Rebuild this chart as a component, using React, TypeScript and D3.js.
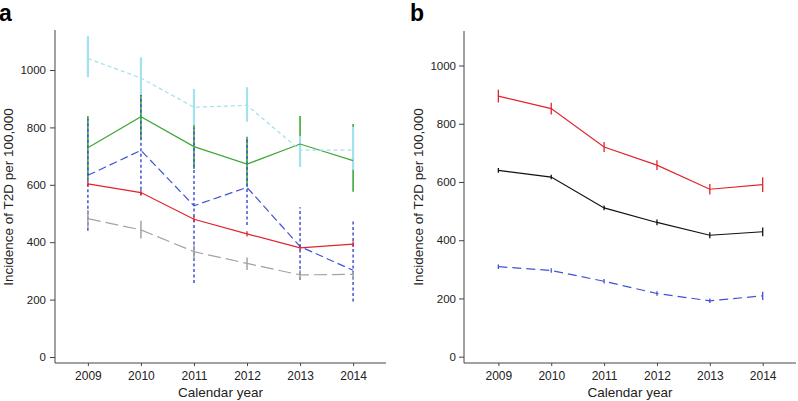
import React, { useEffect, useRef } from "react";
import * as d3 from "d3";

// calendar years and y ticks shared by both panels
const years = [2009, 2010, 2011, 2012, 2013, 2014];
const yTicks = [0, 200, 400, 600, 800, 1000];

// panel a series (value, lower CI, upper CI)
const cyanA = [1040, 972, 870, 877, 721, 721];
const cyanALo = [975, 913, 808, 820, 662, 652];
const cyanAHi = [1118, 1044, 934, 940, 770, 802];
const greenA = [729, 837, 733, 672, 742, 684];
const greenALo = [620, 757, 655, 593, 663, 576];
const greenAHi = [840, 917, 812, 767, 840, 812];
const blueA = [633, 720, 527, 591, 385, 302];
const blueALo = [440, 564, 258, 460, 268, 193];
const blueAHi = [830, 913, 800, 760, 522, 475];
const redA = [603, 573, 480, 429, 380, 393];
const redALo = [593, 563, 470, 420, 371, 383];
const redAHi = [613, 583, 490, 438, 389, 403];
const grayA = [482, 443, 367, 326, 286, 288];
const grayALo = [450, 413, 340, 303, 268, 270];
const grayAHi = [512, 475, 390, 347, 303, 297];

// panel b series
const redB = [895, 852, 720, 658, 575, 591];
const redBLo = [873, 832, 703, 641, 557, 566];
const redBHi = [917, 872, 737, 675, 593, 616];
const blackB = [640, 617, 511, 461, 417, 429];
const blackBLo = [632, 609, 503, 451, 407, 414];
const blackBHi = [648, 625, 519, 471, 427, 444];
const blueB = [309, 296, 259, 217, 192, 209];
const blueBLo = [301, 288, 251, 209, 184, 195];
const blueBHi = [317, 304, 267, 225, 200, 223];

const FONT = "'Liberation Sans', Arial, Helvetica, sans-serif";

function drawPanel(svg, opts) {
  const { left, right, top, bottom, y0, y1000, xDomain, letter, letterX, labelX, tickPad, series } = opts;

  const x = d3.scaleLinear().domain(xDomain).range([left, right]);
  const y = d3.scaleLinear().domain([0, 1000]).range([y0, y1000]);

  const g = svg.append("g");

  // y axis
  const yAxis = g.append("g")
    .attr("transform", `translate(${left},0)`)
    .call(d3.axisLeft(y).tickValues(yTicks).tickFormat(d3.format("d")).tickSize(5).tickPadding(tickPad));
  yAxis.select(".domain").remove();
  yAxis.selectAll(".tick text").attr("font-size", 11.5);

  // x axis
  const xAxis = g.append("g")
    .attr("transform", `translate(0,${bottom})`)
    .call(d3.axisBottom(x).tickValues(years).tickFormat(d3.format("d")).tickSize(3).tickPadding(5));
  xAxis.select(".domain").remove();
  xAxis.selectAll(".tick text").attr("font-size", 12);

  g.selectAll(".tick line").attr("stroke", "#444");
  g.selectAll(".tick text")
    .attr("font-family", FONT)
    .attr("fill", "#222");

  // L shaped frame
  g.append("path")
    .attr("d", `M${left},${top}V${bottom}H${right}`)
    .attr("fill", "none")
    .attr("stroke", "#444")
    .attr("stroke-width", 1);

  // series: error bars then lines
  series.forEach((s) => {
    g.append("g")
      .selectAll("line")
      .data(years)
      .join("line")
      .attr("x1", (d) => x(d))
      .attr("x2", (d) => x(d))
      .attr("y1", (d, i) => y(s.lo[i]))
      .attr("y2", (d, i) => y(s.hi[i]))
      .attr("stroke", s.barColor || s.color)
      .attr("stroke-width", s.barWidth || 1.3)
      .attr("stroke-dasharray", s.barDash || null);
  });
  series.forEach((s) => {
    const line = d3.line().x((d) => x(d)).y((d, i) => y(s.values[i]));
    g.append("path")
      .datum(years)
      .attr("d", line)
      .attr("fill", "none")
      .attr("stroke", s.color)
      .attr("stroke-width", 1.2)
      .attr("stroke-dasharray", s.dash || null);
  });

  // axis titles
  g.append("text")
    .attr("x", (left + right) / 2)
    .attr("y", 397)
    .attr("text-anchor", "middle")
    .attr("font-family", FONT)
    .attr("font-size", 13.5)
    .attr("fill", "#222")
    .text("Calendar year");

  g.append("text")
    .attr("transform", `translate(${labelX},197) rotate(-90)`)
    .attr("text-anchor", "middle")
    .attr("font-family", FONT)
    .attr("font-size", 13.5)
    .attr("fill", "#222")
    .text("Incidence of T2D per 100,000");

  // panel letter
  g.append("text")
    .attr("x", letterX)
    .attr("y", 21)
    .attr("font-family", FONT)
    .attr("font-size", 23)
    .attr("font-weight", "bold")
    .attr("fill", "#000")
    .text(letter);
}

export default function App() {
  const ref = useRef(null);

  useEffect(() => {
    const svg = d3.select(ref.current);
    svg.selectAll("*").remove();

    drawPanel(svg, {
      left: 55, right: 386, top: 30, bottom: 363,
      y0: 357, y1000: 70,
      xDomain: [2008.38, 2014.62],
      letter: "a", letterX: -1, labelX: 13, tickPad: 4,
      series: [
        { values: greenA, lo: greenALo, hi: greenAHi, color: "#3da836", barWidth: 1.6 },
        { values: cyanA, lo: cyanALo, hi: cyanAHi, color: "#a3e1ee", dash: "4,3", barWidth: 2.2 },
        { values: blueA, lo: blueALo, hi: blueAHi, color: "#4052d8", dash: "8,4", barDash: "3,2.5", barWidth: 1.5 },
        { values: grayA, lo: grayALo, hi: grayAHi, color: "#a3a3a3", dash: "13,5", barWidth: 1.5 },
        { values: redA, lo: redALo, hi: redAHi, color: "#e0242b" },
      ],
    });

    drawPanel(svg, {
      left: 464, right: 796, top: 31, bottom: 363,
      y0: 356.7, y1000: 65.5,
      xDomain: [2008.35, 2014.63],
      letter: "b", letterX: 410, labelX: 423, tickPad: 3,
      series: [
        { values: redB, lo: redBLo, hi: redBHi, color: "#e0242b" },
        { values: blackB, lo: blackBLo, hi: blackBHi, color: "#111" },
        { values: blueB, lo: blueBLo, hi: blueBHi, color: "#4052d8", dash: "9,5" },
      ],
    });
  }, []);

  return (
    <svg
      ref={ref}
      width={798}
      height={401}
      style={{ position: "absolute", left: 0, top: 0, background: "#fff" }}
    />
  );
}
